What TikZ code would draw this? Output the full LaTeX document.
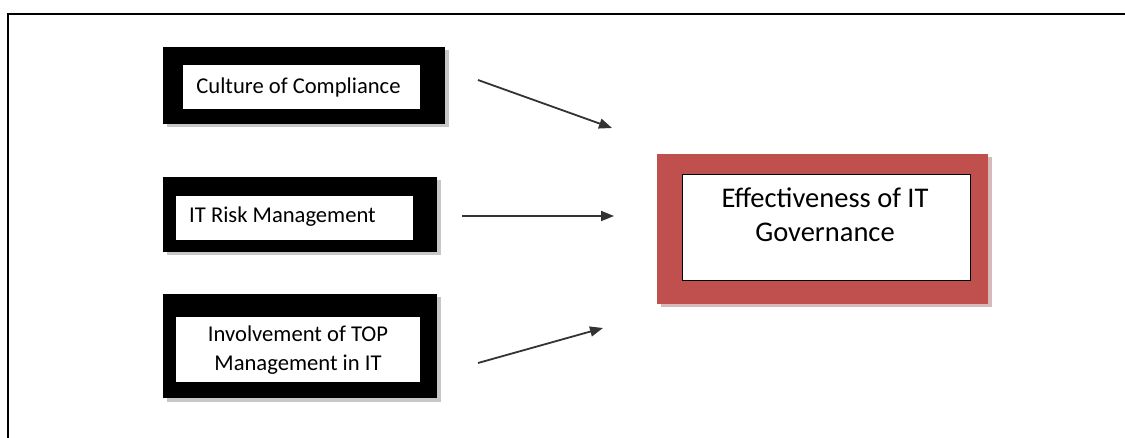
\documentclass[tikz,border=0pt]{standalone}
\usepackage{fontspec}
\setmainfont{Carlito}
\usetikzlibrary{arrows.meta}
\definecolor{boxred}{HTML}{C0504D}
\tikzset{
  outerbox/.style={draw=none, fill=black, inner sep=0pt},
  shadowbox/.style={draw=none, fill=black!22, inner sep=0pt},
  innerbox/.style={draw=black, line width=0.8pt, fill=white, inner sep=0pt},
  smalltext/.style={font=\fontsize{22.6}{29}\selectfont, align=center, inner sep=0pt},
  bigtext/.style={font=\fontsize{28.5}{34}\selectfont, align=center, inner sep=0pt},
  arrowline/.style={draw=black!80, line width=1.8pt, -{Triangle[length=13pt,width=10pt]}},
}
\begin{document}
\begin{tikzpicture}[x=1pt,y=-1pt]
\useasboundingbox (0,0) rectangle (1125,438);
\fill[white] (0,0) rectangle (1125,438);
% frame
\draw[line width=1.6pt] (8,445) -- (8,14) -- (1130,14);
% box 1
\node[shadowbox, minimum width=282, minimum height=77] at (307.5,89) {};
\node[outerbox, minimum width=282, minimum height=77] (b1) at (304,85.5) {};
\node[innerbox, draw=none, minimum width=237, minimum height=44] (b1in) at (301.5,87) {};
\node[smalltext] (t1) at (298.5,87) {Culture of Compliance};
% box 2
\node[shadowbox, minimum width=274, minimum height=75] at (303.5,218) {};
\node[outerbox, minimum width=274, minimum height=75] (b2) at (300,214.5) {};
\node[innerbox, draw=none, minimum width=237, minimum height=44] (b2in) at (294.5,218) {};
\node[smalltext, anchor=west] (t2) at (189,217) {IT Risk Management};
% box 3
\node[shadowbox, minimum width=274, minimum height=104] at (303.5,349.5) {};
\node[outerbox, minimum width=274, minimum height=104] (b3) at (300,346) {};
\node[innerbox, draw=none, minimum width=244, minimum height=65] (b3in) at (298,349.5) {};
\node[smalltext] (t3) at (298,350) {Involvement of TOP\\Management in IT};
% big box
\node[shadowbox, fill=black!28!boxred!35, minimum width=331, minimum height=150] at (826,232.5) {};
\node[outerbox, fill=boxred, minimum width=331, minimum height=150] (eff) at (822.5,229) {};
\node[innerbox, minimum width=288, minimum height=106] (effin) at (826,227) {};
\node[bigtext, anchor=north] (efftext) at (825,188) {Effectiveness of IT\\Governance};
% arrows
\coordinate (a1s) at (478,80);
\coordinate (a1e) at (612,128);
\coordinate (a2s) at (462,216);
\coordinate (a2e) at (614,216);
\coordinate (a3s) at (478,363);
\coordinate (a3e) at (603,328);
\draw[arrowline] (a1s) -- (a1e);
\draw[arrowline] (a2s) -- (a2e);
\draw[arrowline] (a3s) -- (a3e);
\end{tikzpicture}
\end{document}
